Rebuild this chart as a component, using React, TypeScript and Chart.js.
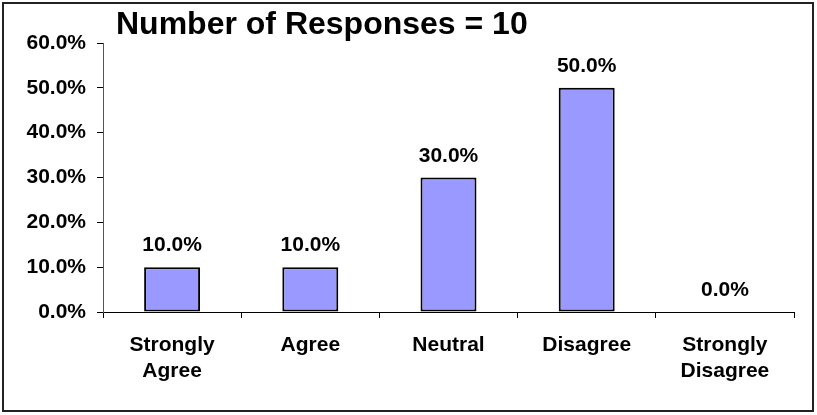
import React, { useEffect, useRef } from "react";
import { Chart, registerables } from "chart.js";

Chart.register(...registerables);

const TITLE = "Number of Responses = 10";
const categories: (string | string[])[] = [
  ["Strongly", "Agree"],
  "Agree",
  "Neutral",
  "Disagree",
  ["Strongly", "Disagree"],
];
const values: number[] = [10, 10, 30, 50, 0];
const yTicks: number[] = [0, 10, 20, 30, 40, 50, 60];

const FONT = "'Liberation Sans', Arial, sans-serif";

const framePlugin = {
  id: "frame",
  beforeDraw(chart: any) {
    const ctx = chart.ctx;
    ctx.save();
    ctx.fillStyle = "#ffffff";
    ctx.fillRect(0, 0, chart.width, chart.height);
    ctx.restore();
  },
  afterDraw(chart: any) {
    const ctx = chart.ctx;
    ctx.save();
    ctx.strokeStyle = "#222222";
    ctx.lineWidth = 2;
    ctx.strokeRect(3, 3, 810, 408);
    ctx.fillStyle = "#000";
    ctx.font = `bold 32px ${FONT}`;
    ctx.textAlign = "left";
    ctx.textBaseline = "alphabetic";
    ctx.fillText(TITLE, 116, 34);
    // value labels
    const meta = chart.getDatasetMeta(0);
    ctx.font = `bold 21px ${FONT}`;
    ctx.textAlign = "center";
    meta.data.forEach((bar: any, i: number) => {
      const v = chart.data.datasets[0].data[i] as number;
      ctx.fillText(v.toFixed(1) + "%", bar.x, bar.y - 16);
    });
    ctx.restore();
  },
};

export default function App() {
  const ref = useRef<HTMLCanvasElement | null>(null);
  useEffect(() => {
    if (!ref.current) return;
    const chart = new Chart(ref.current, {
      type: "bar",
      data: {
        labels: categories,
        datasets: [
          {
            data: values,
            backgroundColor: "#9999FF",
            borderColor: "#000000",
            borderWidth: 2,
            borderSkipped: false,
            barPercentage: 0.405,
            categoryPercentage: 1,
          },
        ],
      },
      options: {
        animation: false,
        responsive: false,
        maintainAspectRatio: false,
        devicePixelRatio: 1,
        layout: { padding: { left: 0, right: 23, top: 43, bottom: 0 } },
        plugins: {
          legend: { display: false },
          title: { display: false },
          tooltip: { enabled: false },
        },
        scales: {
          x: {
            grid: {
              display: true,
              drawOnChartArea: false,
              drawTicks: true,
              tickLength: 6,
              color: "#000",
              offset: true,
            },
            border: { display: true, color: "#000", width: 1 },
            ticks: {
              color: "#000",
              font: { family: FONT, size: 21, weight: "bold", lineHeight: 1.25 },
              padding: 14,
              maxRotation: 0,
              autoSkip: false,
            },
            afterFit: (s: any) => {
              s.height = 103;
            },
          },
          y: {
            min: 0,
            max: 60,
            afterBuildTicks: (s: any) => {
              s.ticks = yTicks.map((v) => ({ value: v }));
            },
            grid: {
              display: true,
              drawOnChartArea: false,
              drawTicks: true,
              tickLength: 6,
              color: "#000",
            },
            border: { display: true, color: "#555", width: 1 },
            ticks: {
              color: "#000",
              font: { family: FONT, size: 21, weight: "bold" },
              padding: 11,
              callback: (v: any) => Number(v).toFixed(1) + "%",
            },
            afterFit: (s: any) => {
              s.width = 103;
            },
          },
        },
      },
      plugins: [framePlugin],
    });
    return () => chart.destroy();
  }, []);
  return (
    <div style={{ position: "absolute", left: 0, top: 0, width: 817, height: 415 }}>
      <canvas ref={ref} width={817} height={415} style={{ display: "block", width: 817, height: 415 }} />
    </div>
  );
}
